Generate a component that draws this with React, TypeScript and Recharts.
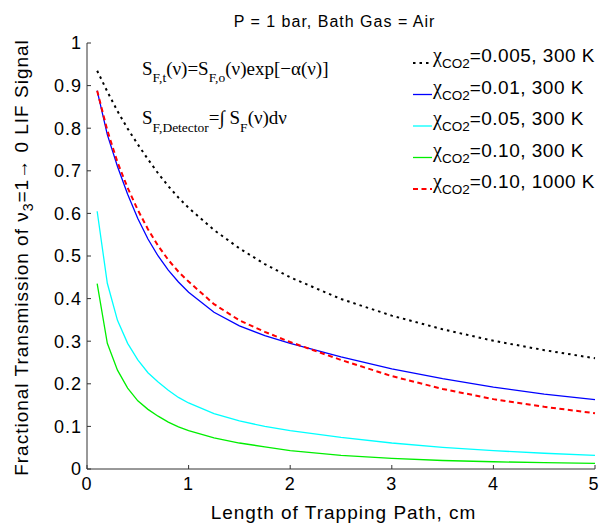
import React from 'react';
import { LineChart, Line, XAxis, YAxis, Legend } from 'recharts';

const SANS = '"Liberation Sans", Arial, Helvetica, sans-serif';
const SERIF = '"Liberation Serif", "Times New Roman", serif';

// trapping path length, cm
const pathLength = [0.1, 0.2, 0.3, 0.4, 0.5, 0.6, 0.7, 0.8, 0.9, 1.0, 1.25, 1.5, 1.75, 2.0, 2.5, 3.0, 3.5, 4.0, 4.5, 5.0];

// fractional transmission per mixture
const chi0005At300 = [0.935, 0.886, 0.84, 0.799, 0.762, 0.727, 0.694, 0.664, 0.637, 0.613, 0.561, 0.518, 0.481, 0.45, 0.399, 0.36, 0.328, 0.301, 0.279, 0.26];
const chi001At300 = [0.888, 0.785, 0.71, 0.645, 0.588, 0.54, 0.5, 0.467, 0.439, 0.415, 0.368, 0.336, 0.313, 0.295, 0.263, 0.235, 0.212, 0.192, 0.176, 0.163];
const chi005At300 = [0.605, 0.436, 0.349, 0.295, 0.256, 0.226, 0.204, 0.185, 0.168, 0.155, 0.13, 0.113, 0.1, 0.09, 0.074, 0.061, 0.051, 0.043, 0.037, 0.032];
const chi010At300 = [0.435, 0.295, 0.232, 0.19, 0.16, 0.14, 0.124, 0.11, 0.099, 0.09, 0.073, 0.061, 0.052, 0.043, 0.032, 0.025, 0.02, 0.017, 0.015, 0.013];
const chi010At1000 = [0.888, 0.795, 0.72, 0.66, 0.608, 0.563, 0.524, 0.491, 0.463, 0.44, 0.387, 0.349, 0.322, 0.298, 0.256, 0.218, 0.188, 0.164, 0.146, 0.131];

const legendLabels = ['=0.005, 300 K', '=0.01, 300 K', '=0.05, 300 K', '=0.10, 300 K', '=0.10, 1000 K'];

const xTicks = [0, 1, 2, 3, 4, 5];
const yTicks = [0, 0.1, 0.2, 0.3, 0.4, 0.5, 0.6, 0.7, 0.8, 0.9, 1];

const series = [
  { key: 's1', label: legendLabels[0], values: chi0005At300, color: '#000000', width: 2, dash: '2.5 4' },
  { key: 's2', label: legendLabels[1], values: chi001At300, color: '#0000ff', width: 1.3, dash: undefined },
  { key: 's3', label: legendLabels[2], values: chi005At300, color: '#00ffff', width: 1.3, dash: undefined },
  { key: 's4', label: legendLabels[3], values: chi010At300, color: '#00ee00', width: 1.3, dash: undefined },
  { key: 's5', label: legendLabels[4], values: chi010At1000, color: '#ff0000', width: 2, dash: '5 3.5' },
];

const data = pathLength.map((x, i) => {
  const row: any = { x };
  series.forEach((s) => {
    row[s.key] = s.values[i];
  });
  return row;
});

const tickStyle = { fill: '#000', fontSize: 18, fontFamily: SANS, letterSpacing: 1 };

function LegendBox() {
  return (
    <svg width={195} height={160}>
      {series.map((s, i) => {
        const y = 22 + i * 31.5;
        return (
          <g key={s.key}>
            <line x1={8} x2={27} y1={y + 1} y2={y + 1} stroke={s.color} strokeWidth={s.width} strokeDasharray={s.dash} />
            <text x={28} y={y} fontSize={19} fontFamily={SANS} fill="#000">
              <tspan fontFamily={SERIF} fontSize={20}>χ</tspan>
              <tspan fontSize={13.5} dy={6}>CO2</tspan>
              <tspan dy={-6} letterSpacing={0.5}>{s.label}</tspan>
            </text>
          </g>
        );
      })}
    </svg>
  );
}

function Annotations() {
  return (
    <svg width={599} height={524} style={{ position: 'absolute', left: 0, top: 0, pointerEvents: 'none' }}>
      <text x={334.5} y={27} textAnchor="middle" fontSize={16} letterSpacing={1} fontFamily={SANS}>
        P = 1 bar, Bath Gas = Air
      </text>
      <text x={142} y={75} fontSize={19} fontFamily={SERIF}>
        S<tspan fontSize={13.5} dy={7}>F,t</tspan>
        <tspan dy={-7}>(ν)=S</tspan>
        <tspan fontSize={13.5} dy={7}>F,o</tspan>
        <tspan dy={-7}>(ν)exp[−α(ν)]</tspan>
      </text>
      <text x={142} y={124} fontSize={19} fontFamily={SERIF}>
        S<tspan fontSize={13.5} dy={8}>F,Detector</tspan>
        <tspan dy={-8}>=∫ S</tspan>
        <tspan fontSize={13.5} dy={8}>F</tspan>
        <tspan dy={-8}>(ν)dν</tspan>
      </text>
      <text x={343.5} y={519} textAnchor="middle" fontSize={19} letterSpacing={1} fontFamily={SANS}>
        Length of Trapping Path, cm
      </text>
      <text
        x={28}
        y={257.5}
        transform="rotate(-90, 28, 257.5)"
        textAnchor="middle"
        fontSize={19}
        letterSpacing={1}
        fontFamily={SANS}
      >
        Fractional Transmission of ν<tspan fontSize={14} dy={5}>3</tspan>
        <tspan dy={-5}>=1→ 0 LIF Signal</tspan>
      </text>
    </svg>
  );
}

export default function App() {
  return (
    <div style={{ position: 'absolute', left: 0, top: 0, width: 599, height: 524, background: '#fff' }}>
      <LineChart width={599} height={524} data={data} margin={{ top: 43, right: 4, bottom: 25, left: 0 }}>
        <XAxis
          dataKey="x"
          type="number"
          domain={[0, 5]}
          ticks={xTicks}
          height={30}
          stroke="#333"
          tickSize={-4}
          tickMargin={12}
          tick={tickStyle}
        />
        <YAxis
          type="number"
          domain={[0, 1]}
          ticks={yTicks}
          width={87}
          stroke="#333"
          tickSize={-4}
          tickMargin={9}
          tick={tickStyle}
          tickFormatter={(v: number) => (v === 0 || v === 1 ? String(v) : v.toFixed(1))}
        />
        <Legend
          layout="horizontal"
          verticalAlign="middle"
          align="center"
          wrapperStyle={{ left: 405, top: 40, width: 195, height: 160 }}
          content={() => <LegendBox />}
        />
        {series.map((s) => (
          <Line
            key={s.key}
            dataKey={s.key}
            type="linear"
            stroke={s.color}
            strokeWidth={s.width}
            strokeDasharray={s.dash}
            dot={false}
            activeDot={false}
            isAnimationActive={false}
          />
        ))}
      </LineChart>
      <Annotations />
    </div>
  );
}
